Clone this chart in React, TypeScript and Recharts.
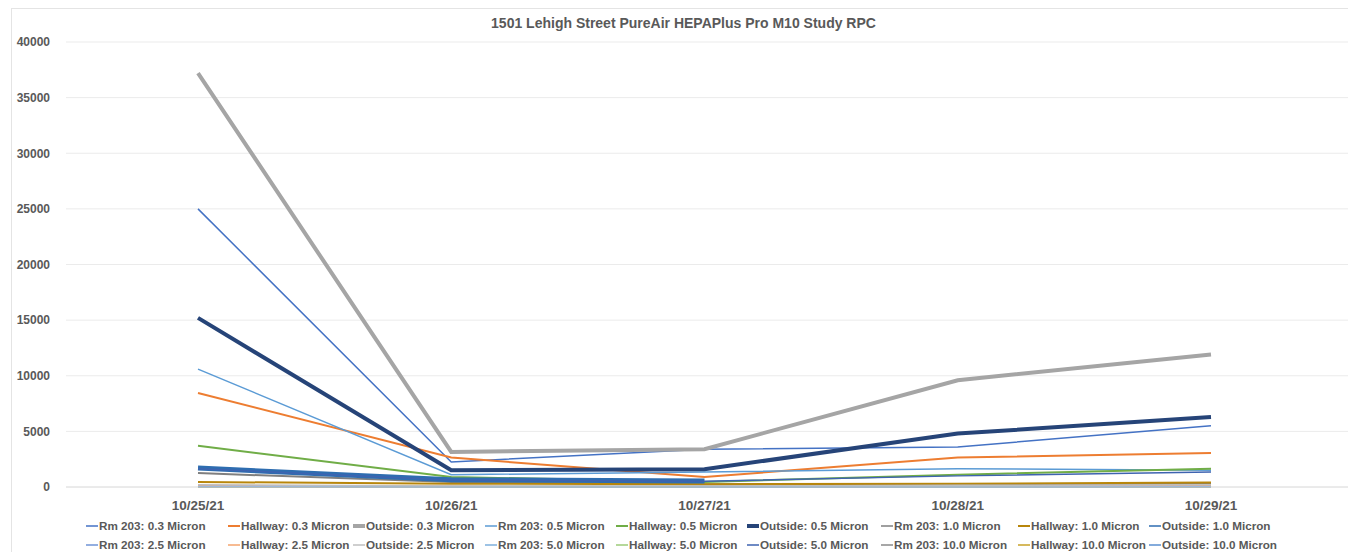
import React from "react";
import { LineChart, Line, XAxis, YAxis, CartesianGrid, Legend } from "recharts";

const dates = ["10/25/21", "10/26/21", "10/27/21", "10/28/21", "10/29/21"];
const yTicks = [0, 5000, 10000, 15000, 20000, 25000, 30000, 35000, 40000];

const rm203_03 = [25000, 2250, 3400, 3600, 5500];
const hall_03 = [8450, 2650, 900, 2650, 3050];
const out_03 = [37200, 3150, 3400, 9600, 11900];
const rm203_05 = [10600, 1100, 1350, 1650, 1500];
const hall_05 = [3700, 900, 450, 1100, 1650];
const out_05 = [15200, 1500, 1600, 4800, 6300];
const rm203_10 = [1250, 450, 250, 250, 300];
const hall_10 = [450, 300, 250, 300, 400];
const out_10 = [1700, 650, 550, null, null];
const rm203_25 = [100, 50, 40, 60, 80];
const hall_25 = [80, 60, 40, 60, 100];
const out_25 = [200, 100, 80, 150, 200];
const rm203_50 = [30, 15, 10, 15, 20];
const hall_50 = [20, 15, 10, 15, 25];
const out_50 = [1650, 620, 520, 1000, 1350];
const rm203_100 = [5, 3, 2, 3, 4];
const hall_100 = [5, 3, 3, 4, 6];
const out_100 = [15, 5, 5, 10, 15];

const seriesNames = [
  "Rm 203: 0.3 Micron", "Hallway: 0.3 Micron", "Outside: 0.3 Micron",
  "Rm 203: 0.5 Micron", "Hallway: 0.5 Micron", "Outside: 0.5 Micron",
  "Rm 203: 1.0 Micron", "Hallway: 1.0 Micron", "Outside: 1.0 Micron",
  "Rm 203: 2.5 Micron", "Hallway: 2.5 Micron", "Outside: 2.5 Micron",
  "Rm 203: 5.0 Micron", "Hallway: 5.0 Micron", "Outside: 5.0 Micron",
  "Rm 203: 10.0 Micron", "Hallway: 10.0 Micron", "Outside: 10.0 Micron",
];
const seriesValues = [
  rm203_03, hall_03, out_03, rm203_05, hall_05, out_05,
  rm203_10, hall_10, out_10, rm203_25, hall_25, out_25,
  rm203_50, hall_50, out_50, rm203_100, hall_100, out_100,
];
const seriesColors = [
  "#4472C4", "#ED7D31", "#A5A5A5", "#5B9BD5", "#70AD47", "#264478",
  "#7F7F7F", "#B8860B", "#2E6DB0", "#6F93D6", "#F4A46E", "#BFBFBF",
  "#7CAFDD", "#9CCB78", "#3E63B0", "#8A8A8A", "#C9A227", "#5A8FD0",
];
const seriesWidths = [1.5, 2, 4, 1.5, 2, 4, 2, 2, 5, 1.5, 1.5, 1.5, 1.5, 1.5, 1.5, 1.5, 1.5, 1.5];
const legendMarkerWidths = [1.5, 2, 4, 1.5, 2, 4, 1.5, 2, 1.5, 1.5, 1.5, 1.5, 1.5, 1.5, 1.5, 1.5, 1.5, 1.5];

const legendCols = [142, 125, 132, 131, 131, 134, 137, 131, 150];

const data = dates.map((d, i) => {
  const row: Record<string, any> = { date: d };
  seriesNames.forEach((n, k) => {
    row[n] = seriesValues[k][i];
  });
  return row;
});

const FONT = "'Liberation Sans', 'Open Sans', sans-serif";
const TXT = "#595959";

const CustomLegend = () => (
  <div
    style={{
      display: "grid",
      gridTemplateColumns: legendCols.map((c) => c + "px").join(" "),
      rowGap: 2,
      fontFamily: FONT,
      fontWeight: 700,
      fontSize: 11.7,
      color: TXT,
      lineHeight: "17px",
    }}
  >
    {seriesNames.map((n, k) => (
      <div key={n} style={{ display: "flex", alignItems: "center", whiteSpace: "nowrap" }}>
        <svg width={12} height={10} style={{ marginRight: 1 }}>
          <line x1={0} x2={12} y1={5} y2={5} stroke={seriesColors[k]} strokeWidth={legendMarkerWidths[k]} />
        </svg>
        <span>{n}</span>
      </div>
    ))}
  </div>
);

export default function App() {
  return (
    <div
      style={{
        position: "relative",
        width: 1343,
        height: 544,
        marginLeft: 3,
        border: "1px solid #E4E4E4",
        borderBottom: "none",
        boxSizing: "border-box",
        background: "#fff",
      }}
    >
      <div
        style={{
          position: "absolute",
          top: 6,
          left: 0,
          width: 1343,
          textAlign: "center",
          fontFamily: FONT,
          fontWeight: 700,
          fontSize: 14,
          color: TXT,
        }}
      >
        1501 Lehigh Street PureAir HEPAPlus Pro M10 Study RPC
      </div>
      <LineChart
        width={1341}
        height={543}
        data={data}
        margin={{ top: 34, right: 0, bottom: 0, left: 0 }}
        style={{ position: "absolute", top: -1, left: -4 }}
      >
        <CartesianGrid vertical={false} stroke="#EBEBEB" />
        <XAxis
          dataKey="date"
          padding={{ left: 132, right: 138 }}
          axisLine={{ stroke: "#E0E0E0" }}
          tickLine={false}
          tick={{ fontFamily: FONT, fontWeight: 700, fontSize: 13.5, fill: TXT }}
          tickMargin={7}
          height={28}
        />
        <YAxis
          domain={[0, 40000]}
          ticks={yTicks}
          interval={0}
          axisLine={false}
          tickLine={false}
          width={58}
          tick={{ fontFamily: FONT, fontWeight: 700, fontSize: 12, fill: TXT }}
          tickMargin={10}
        />
        <Legend
          verticalAlign="bottom"
          content={<CustomLegend />}
          wrapperStyle={{ left: 78, bottom: -2, width: 1250, height: 36 }}
        />
        {seriesNames.map((n, k) => (
          <Line
            key={n}
            type="linear"
            dataKey={n}
            stroke={seriesColors[k]}
            strokeWidth={seriesWidths[k]}
            dot={false}
            activeDot={false}
            isAnimationActive={false}
          />
        ))}
      </LineChart>
    </div>
  );
}
